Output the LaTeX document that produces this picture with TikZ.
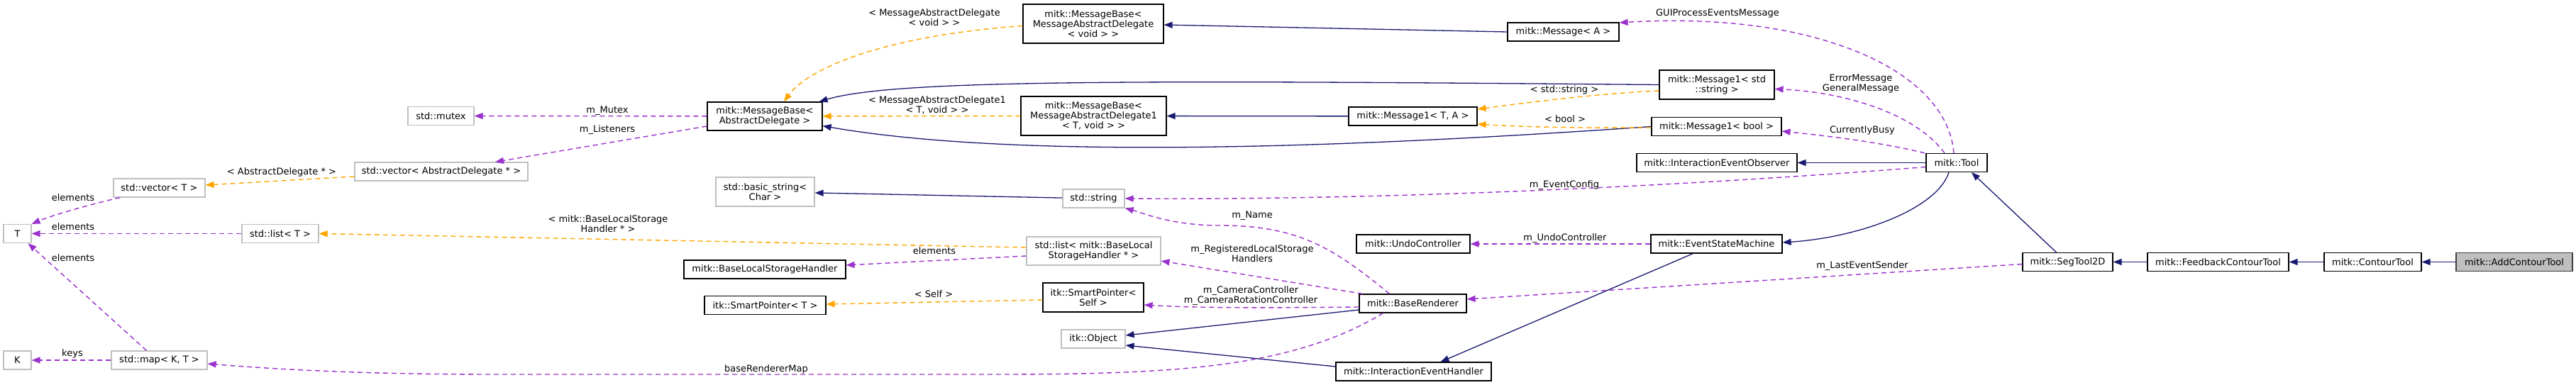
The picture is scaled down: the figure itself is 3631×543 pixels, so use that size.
\documentclass[tikz,border=0pt]{standalone}
\usepackage{fontspec}
\setmainfont{DejaVu Sans}
\usetikzlibrary{arrows.meta}
\definecolor{midblue}{HTML}{191970}
\definecolor{orng}{HTML}{FFA500}
\definecolor{orch}{HTML}{9A32CD}
\definecolor{gborder}{HTML}{BFBFBF}
\newcommand\fs{\fontsize{13}{14}\selectfont}
\tikzset{
  box/.style={draw=black, line width=1.2pt, fill=white, inner sep=0pt, align=center, font=\fs},
  gbox/.style={box, draw=gborder},
  wh/.style 2 args={minimum width=#1pt, minimum height=#2pt},
  tip/.style={-{Triangle[length=12pt,width=9pt]}},
  inh/.style={draw=midblue, line width=1.3pt, tip},
  tmpl/.style={draw=orng, line width=1.4pt, dash pattern=on 7pt off 5pt, tip},
  use/.style={draw=orch, line width=1.4pt, dash pattern=on 7pt off 5pt, tip},
  lbl/.style={font=\fs, align=center, inner sep=0pt}
}
\begin{document}
\begin{tikzpicture}[x=1pt,y=-1pt]
\useasboundingbox (0,0) rectangle (3631,543);
% nodes
\node[gbox,wh={39}{26}] (T) at (24.5,329.5) {T};
\node[gbox,wh={39}{26}] (K) at (24.5,508) {K};
\node[gbox,wh={129}{26}] (vecT) at (224.5,265) {std::vector< T >};
\node[gbox,wh={108}{26}] (listT) at (395,329.5) {std::list< T >};
\node[gbox,wh={135}{26}] (mapKT) at (224.5,508) {std::map< K, T >};
\node[gbox,wh={93}{26}] (mutex) at (621.5,163.5) {std::mutex};
\node[gbox,wh={244}{26}] (vecAD) at (622,242) {std::vector< AbstractDelegate * >};
\node[box,wh={162}{40}] (MBAD) at (1078,164) {mitk::MessageBase<\\AbstractDelegate >};
\node[gbox,wh={139}{41}] (bstr) at (1078.5,270.5) {std::basic\_string<\\Char >};
\node[box,wh={228}{26}] (BLSH) at (1078,380) {mitk::BaseLocalStorageHandler};
\node[box,wh={171}{26}] (SPT) at (1078.5,430.5) {itk::SmartPointer< T >};
\node[box,wh={198}{55}] (MBMADv) at (1541,33.5) {mitk::MessageBase<\\MessageAbstractDelegate\\< void > >};
\node[box,wh={205}{55}] (MBMAD1) at (1541.5,163.5) {mitk::MessageBase<\\MessageAbstractDelegate1\\< T, void > >};
\node[gbox,wh={87}{26}] (string) at (1541.5,280) {std::string};
\node[gbox,wh={189}{40}] (listBLSH) at (1541.5,354) {std::list< mitk::BaseLocal\\StorageHandler * >};
\node[box,wh={142}{41}] (SPSelf) at (1541,419.5) {itk::SmartPointer<\\Self >};
\node[gbox,wh={90}{26}] (itkObj) at (1541,478) {itk::Object};
\node[box,wh={157}{26}] (MsgA) at (2203.5,45) {mitk::Message< A >};
\node[box,wh={181}{26}] (Msg1TA) at (1991.5,164) {mitk::Message1< T, A >};
\node[box,wh={160}{26}] (Undo) at (1992,344) {mitk::UndoController};
\node[box,wh={151}{26}] (BR) at (1991.5,428) {mitk::BaseRenderer};
\node[box,wh={219}{26}] (IEH) at (1992.5,524) {mitk::InteractionEventHandler};
\node[box,wh={162}{41}] (Msg1Str) at (2420,119.5) {mitk::Message1< std\\::string >};
\node[box,wh={183}{26}] (Msg1Bool) at (2419.5,178.5) {mitk::Message1< bool >};
\node[box,wh={226}{26}] (IEO) at (2420,229.5) {mitk::InteractionEventObserver};
\node[box,wh={185}{26}] (ESM) at (2419.5,344) {mitk::EventStateMachine};
\node[box,wh={86}{26}] (Tool) at (2758,229.5) {mitk::Tool};
\node[box,wh={127}{26}] (Seg) at (2914.5,369.5) {mitk::SegTool2D};
\node[box,wh={199}{26}] (FCT) at (3126.5,369.5) {mitk::FeedbackContourTool};
\node[box,wh={137}{26}] (CT) at (3344.5,369.5) {mitk::ContourTool};
\node[box,wh={164}{26},fill=gborder,draw=black!75] (ACT) at (3544,369.5) {mitk::AddContourTool};
% inheritance
\draw[inh] (Msg1TA) -- (MBMAD1);
\draw[inh] (MsgA.west) -- ([yshift=-1.5pt]MBMADv.east);
\draw[inh] (Msg1Str.west) .. controls (1600,113) and (1260,112) .. ([xshift=-5pt]MBAD.north east);
\draw[inh] (Msg1Bool.west) .. controls (1950,205) and (1450,228) .. ([yshift=7pt]MBAD.south east);
\draw[inh] (Tool) -- (IEO);
\draw[inh] ([xshift=60pt]ESM.south west) -- ([xshift=38pt]IEH.north);
\draw[inh] ([yshift=-9pt]BR.west) -- ([yshift=5pt]itkObj.east);
\draw[inh] ([yshift=7pt]IEH.west) -- ([yshift=-9pt]itkObj.east);
\draw[inh] ([xshift=-11pt]Tool.south) .. controls (2730,295) and (2620,335) .. ([yshift=2pt]ESM.east);
\draw[inh] ([xshift=-16pt]Seg.north) -- ([xshift=21pt]Tool.south);
\draw[inh] (FCT) -- (Seg);
\draw[inh] (CT) -- (FCT);
\draw[inh] (ACT) -- (CT);
\draw[inh] (string) -- (bstr);
% template instances
\draw[tmpl] ([yshift=-3pt]MBMADv.west) .. controls (1250,50) and (1140,95) .. ([xshift=27pt]MBAD.north);
\draw[tmpl] (MBMAD1) -- (MBAD);
\draw[tmpl] ([yshift=-8.5pt]Msg1Str.west) .. controls (2250,132) and (2150,145) .. ([yshift=10pt]Msg1TA.east);
\draw[tmpl] ([yshift=-1.5pt]Msg1Bool.west) .. controls (2200,181) and (2130,178) .. ([yshift=-11pt]Msg1TA.east);
\draw[tmpl] ([yshift=-7pt]vecAD.west) -- ([yshift=4pt]vecT.east);
\draw[tmpl] ([yshift=5pt]listBLSH.west) -- (listT.east);
\draw[tmpl] ([yshift=-3.5pt]SPSelf.west) -- ([yshift=1.5pt]SPT.east);
% usage
\draw[use] ([xshift=10pt]vecT.south west) .. controls (120,290) and (70,305) .. (T.north east);
\draw[use] (listT) -- (T);
\draw[use] ([xshift=-18pt]mapKT.north) -- ([xshift=15pt]T.south);
\draw[use] (mapKT) -- (K);
\draw[use] (MBAD) -- (mutex);
\draw[use] ([yshift=-14pt]MBAD.west) -- ([xshift=76pt]vecAD.north);
\draw[use] ([yshift=-7pt]listBLSH.west) -- ([yshift=6pt]BLSH.east);
\draw[use] ([xshift=-33pt]BR.north) .. controls (1880,350) and (1830,318) .. (1720,318) .. controls (1650,318) and (1610,300) .. (string.south east);
\draw[use] ([xshift=-71pt]BR.north) -- ([yshift=-14pt]listBLSH.east);
\draw[use] ([yshift=-5pt]BR.west) .. controls (1800,434) and (1700,435) .. ([yshift=-10.5pt]SPSelf.east);
\draw[use] ([xshift=-42pt]BR.south) .. controls (1820,520) and (1650,528) .. (1400,528) -- (700,528) .. controls (500,528) and (380,520) .. ([yshift=-5pt]mapKT.east);
\draw[use] ([yshift=-6pt]Tool.west) .. controls (2300,268) and (1900,282) .. (string.east);
\draw[use] (ESM) -- (Undo);
\draw[use] ([yshift=-3pt]Seg.west) -- ([yshift=6pt]BR.east);
\draw[use] ([xshift=-4pt]Tool.north) .. controls (2745,100) and (2560,15) .. ([yshift=13pt]MsgA.east);
\draw[use] ([xshift=-17pt]Tool.north) .. controls (2700,160) and (2600,130) .. ([yshift=-6pt]Msg1Str.east);
\draw[use] ([xshift=-45pt]Tool.north) .. controls (2650,200) and (2560,190) .. ([yshift=-6.5pt]Msg1Bool.east);
% labels
\node[lbl] (l1) at (397,243) {< AbstractDelegate * >};
\node[lbl] (l2) at (103,279) {elements};
\node[lbl] (l3) at (103,320) {elements};
\node[lbl] (l4) at (103,364) {elements};
\node[lbl] (l5) at (102,499) {keys};
\node[lbl] (l6) at (856,156) {m\_Mutex};
\node[lbl] (l7) at (856,183) {m\_Listeners};
\node[lbl] (l8) at (1317,24.5) {< MessageAbstractDelegate\\< void > >};
\node[lbl] (l9) at (1321,148) {< MessageAbstractDelegate1\\< T, void > >};
\node[lbl] (l10) at (857,316) {< mitk::BaseLocalStorage\\Handler * >};
\node[lbl] (l11) at (1317,354) {elements};
\node[lbl] (l12) at (1316,415) {< Self >};
\node[lbl] (l13) at (1080,521) {baseRendererMap};
\node[lbl] (l14) at (2205,127) {< std::string >};
\node[lbl] (l15) at (2206,168) {< bool >};
\node[lbl] (l16) at (2205,261) {m\_EventConfig};
\node[lbl] (l17) at (2421,19) {GUIProcessEventsMessage};
\node[lbl] (l18) at (2623,118) {ErrorMessage\\GeneralMessage};
\node[lbl] (l19) at (2625,184) {CurrentlyBusy};
\node[lbl] (l20) at (1765,304) {m\_Name};
\node[lbl] (l21) at (1765,358) {m\_RegisteredLocalStorage\\Handlers};
\node[lbl] (l22) at (1763,417) {m\_CameraController\\m\_CameraRotationController};
\node[lbl] (l23) at (2206,336) {m\_UndoController};
\node[lbl] (l24) at (2625,375) {m\_LastEventSender};
\end{tikzpicture}
\end{document}
